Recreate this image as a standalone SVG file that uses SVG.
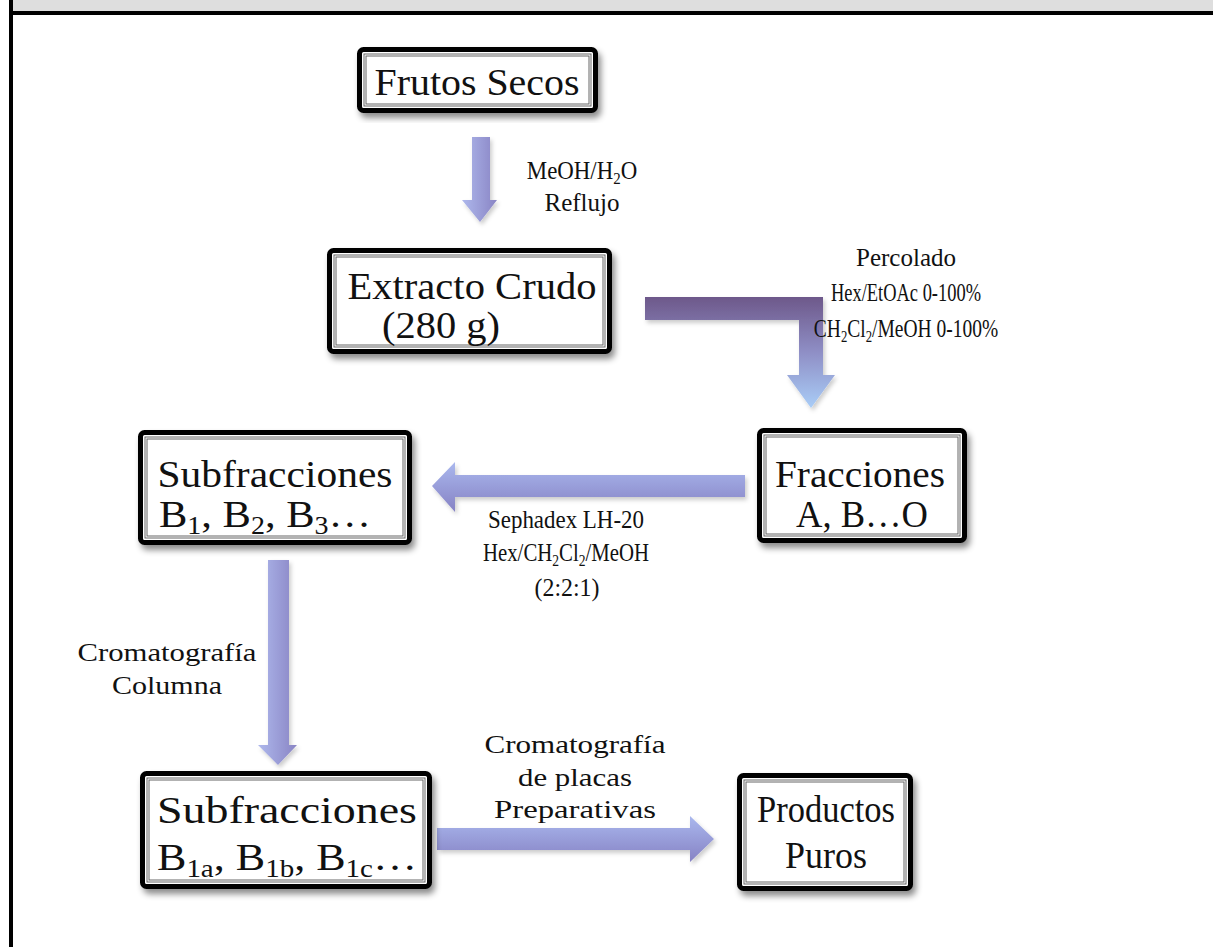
<svg xmlns="http://www.w3.org/2000/svg" width="1213" height="947" viewBox="0 0 1213 947">
<defs>
<style>
.bx{fill:#fff;stroke:#000;stroke-width:5}
.in1{fill:none;stroke:#666;stroke-width:3}
.in2{fill:none;stroke:#fff;stroke-width:1}
.t{font-family:"Liberation Serif","DejaVu Serif",serif;fill:#111;text-anchor:middle}
.big{font-size:38px}
.lb{font-size:26px}
.s{font-size:17px}
.sb{font-size:25px}
</style>
<filter id="sh" x="-10%" y="-10%" width="125%" height="130%">
<feDropShadow dx="3" dy="5" stdDeviation="3" flood-color="#000" flood-opacity="0.45"/>
</filter>
<filter id="ash" x="-10%" y="-10%" width="130%" height="130%">
<feDropShadow dx="2" dy="3" stdDeviation="2" flood-color="#000" flood-opacity="0.2"/>
</filter>
<linearGradient id="gv" x1="0" y1="0" x2="1" y2="0">
<stop offset="0" stop-color="#aeb8ec"/>
<stop offset="1" stop-color="#8984c4"/>
</linearGradient>
<linearGradient id="gh" x1="0" y1="0" x2="0" y2="1">
<stop offset="0" stop-color="#aab8ee"/>
<stop offset="1" stop-color="#8682c4"/>
</linearGradient>
<linearGradient id="ge" gradientUnits="userSpaceOnUse" x1="0" y1="297" x2="0" y2="408">
<stop offset="0" stop-color="#6d588a"/>
<stop offset="0.5" stop-color="#8f8fc6"/>
<stop offset="1" stop-color="#a9cdf7"/>
</linearGradient>
</defs>
<rect x="0" y="0" width="1213" height="947" fill="#fff"/>
<rect x="13" y="0" width="1200" height="11" fill="#dedede"/>
<rect x="9" y="11" width="1204" height="4" fill="#000"/>
<rect x="9" y="0" width="4" height="947" fill="#000"/>

<g id="connectors" filter="url(#ash)">
<path d="M472,137 H490 V200 H497 L480,222 L462,200 H472 Z" fill="url(#gv)"/>
<path d="M645,297 H823 V375 H835 L811,408 L787,375 H799 V320 H645 Z" fill="url(#ge)"/>
<path d="M745,475 V497 H455 V512 L432,486 L455,462 V475 Z" fill="url(#gh)"/>
<path d="M268,560 H289 V745 H297 L278,765 L258,745 H268 Z" fill="url(#gv)"/>
<path d="M437,828 H690 V816 L714,839 L690,862 V850 H437 Z" fill="url(#gh)"/>
</g>

<g id="labels" class="t lb">
<text transform="translate(582,179) scale(0.88,1)">MeOH/H<tspan class="s" dy="5">2</tspan><tspan dy="-5">O</tspan></text>
<text x="582" y="211" textLength="75" lengthAdjust="spacingAndGlyphs">Reflujo</text>
<text x="906" y="266" textLength="100" lengthAdjust="spacingAndGlyphs">Percolado</text>
<text x="906" y="301" textLength="150" lengthAdjust="spacingAndGlyphs">Hex/EtOAc 0-100%</text>
<text transform="translate(906,337) scale(0.75,1)">CH<tspan class="s" dy="5">2</tspan><tspan dy="-5">Cl</tspan><tspan class="s" dy="5">2</tspan><tspan dy="-5">/MeOH 0-100%</tspan></text>
<text x="566" y="528" textLength="156" lengthAdjust="spacingAndGlyphs">Sephadex LH-20</text>
<text transform="translate(566,561) scale(0.8,1)">Hex/CH<tspan class="s" dy="5">2</tspan><tspan dy="-5">Cl</tspan><tspan class="s" dy="5">2</tspan><tspan dy="-5">/MeOH</tspan></text>
<text x="567" y="596" textLength="65" lengthAdjust="spacingAndGlyphs">(2:2:1)</text>
<text x="167" y="661" textLength="179" lengthAdjust="spacingAndGlyphs">Cromatografía</text>
<text x="167" y="694" textLength="110" lengthAdjust="spacingAndGlyphs">Columna</text>
<text x="575" y="753" textLength="181" lengthAdjust="spacingAndGlyphs">Cromatografía</text>
<text x="575" y="786" textLength="114" lengthAdjust="spacingAndGlyphs">de placas</text>
<text x="575" y="818" textLength="162" lengthAdjust="spacingAndGlyphs">Preparativas</text>
</g>

<g id="n1" filter="url(#sh)">
<rect class="bx" x="359.5" y="49.5" width="236" height="61" rx="4"/>
<rect class="in1" x="365" y="55" width="225" height="50"/>
<rect class="in2" x="365" y="55" width="225" height="50"/>
</g>
<text class="t big" x="477" y="95" textLength="205" lengthAdjust="spacingAndGlyphs">Frutos Secos</text>

<g id="n2" filter="url(#sh)">
<rect class="bx" x="329.5" y="250.5" width="280" height="101" rx="4"/>
<rect class="in1" x="335" y="256" width="269" height="90"/>
<rect class="in2" x="335" y="256" width="269" height="90"/>
</g>
<text class="t big" x="472" y="299" textLength="249" lengthAdjust="spacingAndGlyphs">Extracto Crudo</text>
<text class="t big" x="441" y="338" textLength="118" lengthAdjust="spacingAndGlyphs">(280 g)</text>

<g id="n3" filter="url(#sh)">
<rect class="bx" x="140.5" y="432.5" width="269" height="110" rx="4"/>
<rect class="in1" x="146" y="438" width="258" height="99"/>
<rect class="in2" x="146" y="438" width="258" height="99"/>
</g>
<text class="t big" x="275" y="487" textLength="235" lengthAdjust="spacingAndGlyphs">Subfracciones</text>
<text class="t big" transform="translate(265,527) scale(1.12,1)">B<tspan class="sb" dy="7">1</tspan><tspan dy="-7">, B</tspan><tspan class="sb" dy="7">2</tspan><tspan dy="-7">, B</tspan><tspan class="sb" dy="7">3</tspan><tspan dy="-7">…</tspan></text>

<g id="n4" filter="url(#sh)">
<rect class="bx" x="759.5" y="430.5" width="205" height="110" rx="4"/>
<rect class="in1" x="765" y="436" width="194" height="99"/>
<rect class="in2" x="765" y="436" width="194" height="99"/>
</g>
<text class="t big" x="860" y="487" textLength="170" lengthAdjust="spacingAndGlyphs">Fracciones</text>
<text class="t big" x="862" y="527" textLength="132" lengthAdjust="spacingAndGlyphs">A, B…O</text>

<g id="n5" filter="url(#sh)">
<rect class="bx" x="142.5" y="773.5" width="287" height="113" rx="4"/>
<rect class="in1" x="148" y="779" width="276" height="102"/>
<rect class="in2" x="148" y="779" width="276" height="102"/>
</g>
<text class="t big" x="287" y="823" textLength="260" lengthAdjust="spacingAndGlyphs">Subfracciones</text>
<text class="t big" transform="translate(287,870) scale(1.16,1)">B<tspan class="sb" dy="7">1a</tspan><tspan dy="-7">, B</tspan><tspan class="sb" dy="7">1b</tspan><tspan dy="-7">, B</tspan><tspan class="sb" dy="7">1c</tspan><tspan dy="-7">…</tspan></text>

<g id="n6" filter="url(#sh)">
<rect class="bx" x="739.5" y="775.5" width="171" height="113" rx="4"/>
<rect class="in1" x="745" y="781" width="160" height="102"/>
<rect class="in2" x="745" y="781" width="160" height="102"/>
</g>
<text class="t big" x="826" y="822" textLength="138" lengthAdjust="spacingAndGlyphs">Productos</text>
<text class="t big" x="826" y="868" textLength="82" lengthAdjust="spacingAndGlyphs">Puros</text>
</svg>
